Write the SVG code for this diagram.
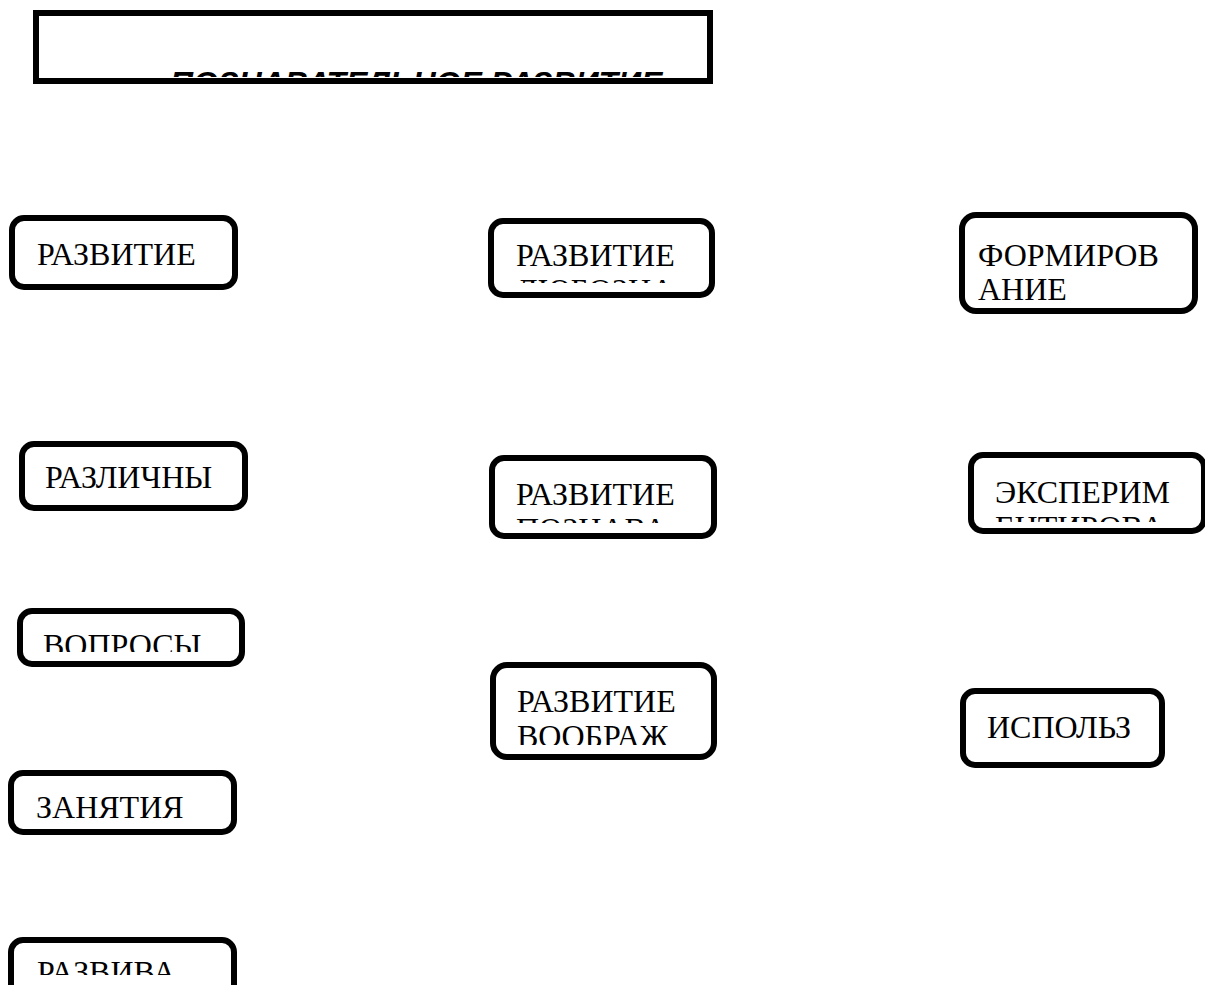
<svg xmlns="http://www.w3.org/2000/svg" width="1205" height="985" viewBox="0 0 1205 985">
<style>
.box{fill:#fff;stroke:#000;stroke-width:6}
.t{font-family:"Liberation Serif","Times New Roman",serif;font-size:32px;fill:#000}
.h{font-family:"Liberation Sans",Arial,sans-serif;font-size:32px;font-weight:bold;font-style:italic;fill:#000}
</style>
<defs>
<clipPath id="c0"><rect x="38" y="16" width="669" height="61"/></clipPath>
<clipPath id="c1"><rect x="15" y="221" width="217" height="63"/></clipPath>
<clipPath id="c2"><rect x="494" y="224" width="215" height="59"/></clipPath>
<clipPath id="c3"><rect x="965" y="218" width="227" height="84"/></clipPath>
<clipPath id="c4"><rect x="25" y="447" width="217" height="58"/></clipPath>
<clipPath id="c5"><rect x="495" y="461" width="216" height="62"/></clipPath>
<clipPath id="c6"><rect x="974" y="459" width="231" height="63"/></clipPath>
<clipPath id="c7"><rect x="23" y="614" width="216" height="38"/></clipPath>
<clipPath id="c8"><rect x="496" y="668" width="215" height="77"/></clipPath>
<clipPath id="c9"><rect x="966" y="694" width="193" height="68"/></clipPath>
<clipPath id="c10"><rect x="14" y="776" width="217" height="53"/></clipPath>
<clipPath id="c11"><rect x="14" y="943" width="217" height="32"/></clipPath>
</defs>
<g id="connectors"></g>
<g id="header">
<rect class="box" x="36" y="13" width="674" height="68"/>
<text class="h" x="170" y="94" clip-path="url(#c0)">ПОЗНАВАТЕЛЬНОЕ РАЗВИТИЕ</text>
</g>
<g id="n1">
<rect class="box" x="12" y="218" width="223" height="69" rx="12"/>
<text class="t" x="37" y="265" clip-path="url(#c1)">РАЗВИТИЕ</text>
</g>
<g id="n2">
<rect class="box" x="491" y="221" width="221" height="74" rx="12"/>
<text class="t" clip-path="url(#c2)"><tspan x="516" y="266">РАЗВИТИЕ</tspan><tspan x="516" y="301">ЛЮБОЗНА</tspan></text>
</g>
<g id="n3">
<rect class="box" x="962" y="215" width="233" height="96" rx="14"/>
<text class="t" clip-path="url(#c3)"><tspan x="978" y="266">ФОРМИРОВ</tspan><tspan x="978" y="300">АНИЕ</tspan></text>
</g>
<g id="n4">
<rect class="box" x="22" y="444" width="223" height="64" rx="12"/>
<text class="t" x="45" y="488" clip-path="url(#c4)">РАЗЛИЧНЫ</text>
</g>
<g id="n5">
<rect class="box" x="492" y="458" width="222" height="78" rx="12"/>
<text class="t" clip-path="url(#c5)"><tspan x="516" y="505">РАЗВИТИЕ</tspan><tspan x="516" y="540">ПОЗНАВА</tspan></text>
</g>
<g id="n6">
<rect class="box" x="971" y="455" width="233" height="76" rx="12"/>
<text class="t" clip-path="url(#c6)"><tspan x="995" y="503">ЭКСПЕРИМ</tspan><tspan x="995" y="538">ЕНТИРОВА</tspan></text>
</g>
<g id="n7">
<rect class="box" x="20" y="611" width="222" height="53" rx="12"/>
<text class="t" x="43" y="656" clip-path="url(#c7)">ВОПРОСЫ</text>
</g>
<g id="n8">
<rect class="box" x="493" y="665" width="221" height="92" rx="14"/>
<text class="t" clip-path="url(#c8)"><tspan x="517" y="712">РАЗВИТИЕ</tspan><tspan x="517" y="747">ВООБРАЖ</tspan></text>
</g>
<g id="n9">
<rect class="box" x="963" y="691" width="199" height="74" rx="12"/>
<text class="t" x="987" y="738" clip-path="url(#c9)">ИСПОЛЬЗ</text>
</g>
<g id="n10">
<rect class="box" x="11" y="773" width="223" height="59" rx="12"/>
<text class="t" x="36" y="818" clip-path="url(#c10)">ЗАНЯТИЯ</text>
</g>
<g id="n11">
<rect class="box" x="11" y="940" width="223" height="60" rx="12"/>
<text class="t" x="37" y="983" clip-path="url(#c11)">РАЗВИВА</text>
</g>
</svg>
